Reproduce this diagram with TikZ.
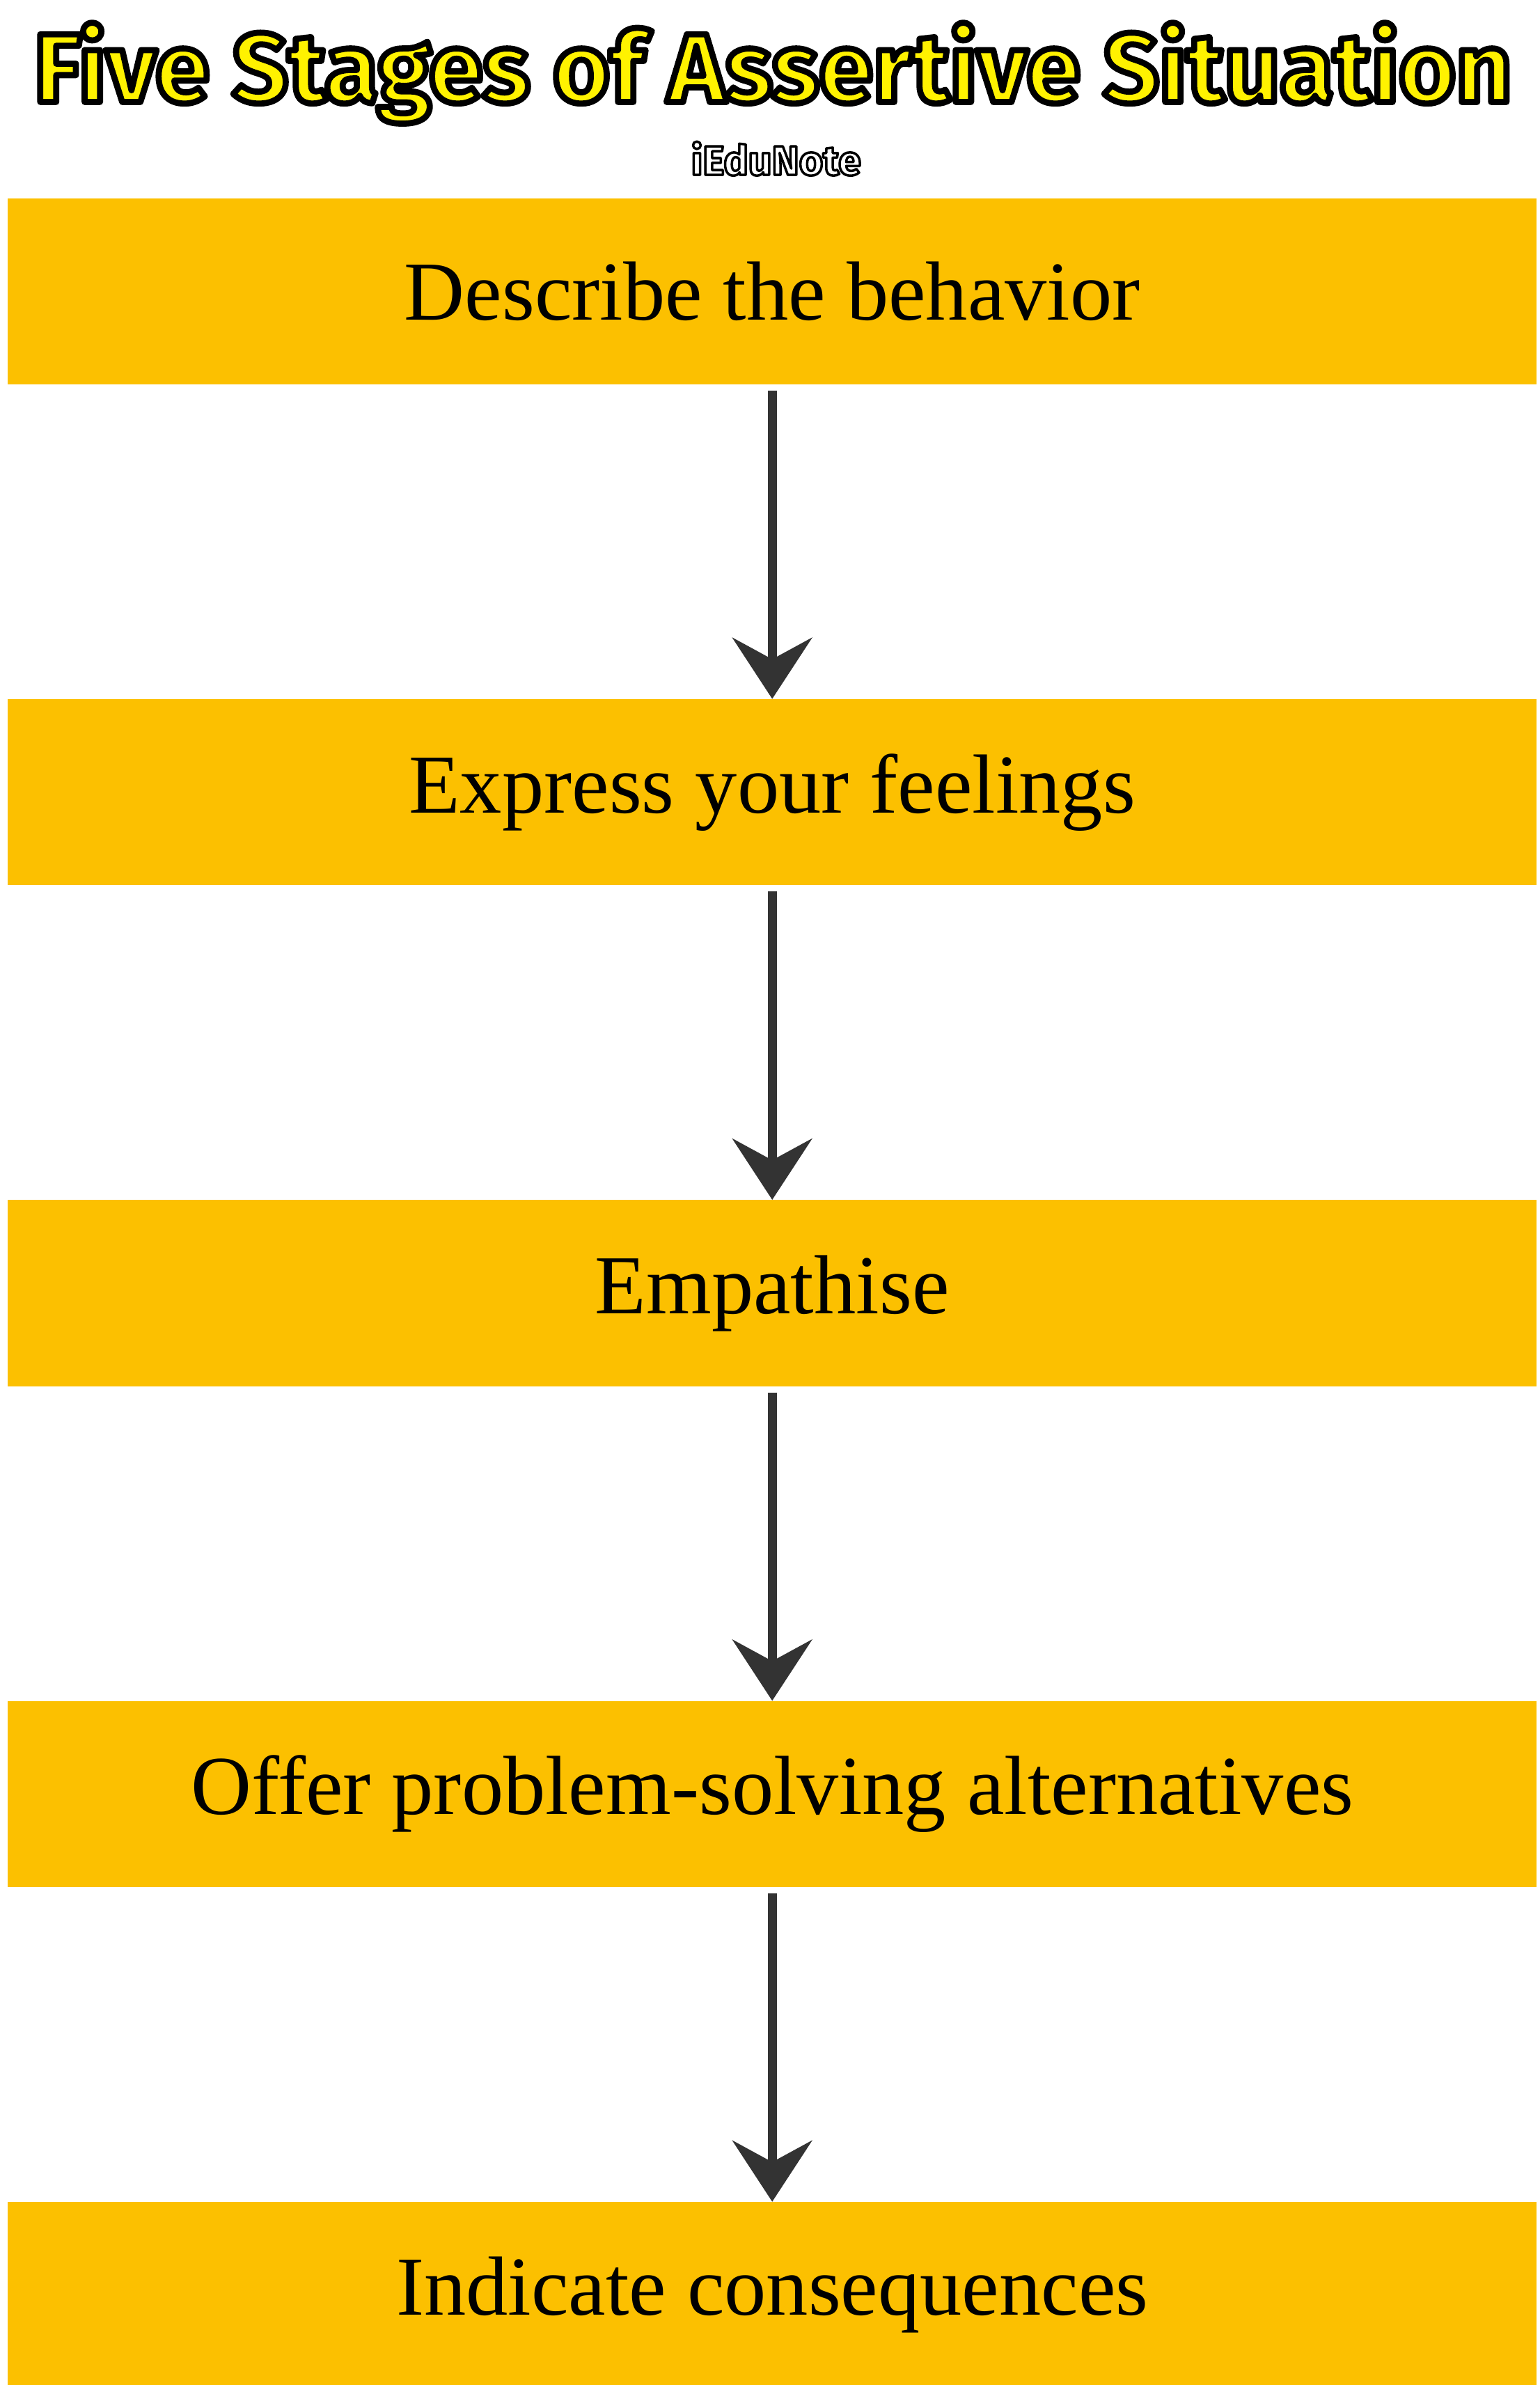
\documentclass[tikz,border=0pt]{standalone}
\usepackage{fontspec}
\setmainfont{Liberation Serif}
\newfontfamily\titlefont{Fira Sans}
\usetikzlibrary{arrows.meta}
\definecolor{boxy}{HTML}{FCC000}
\definecolor{ttly}{HTML}{FFF200}
\definecolor{arr}{HTML}{333333}
\newcommand\outlinedtext[3]{{\color{#1}\special{pdf:literal direct 0 0 0 RG 2 Tr #2 w 1 j}#3\special{pdf:literal direct 0 Tr}}}
\tikzset{stagebox/.style={fill=boxy,minimum width=1003pt,minimum height=122pt,inner sep=0pt,font=\fontsize{55}{60}\selectfont,text=black},
conn/.style={draw=arr,line width=6pt,-{Stealth[length=40pt,width=52pt,inset=14pt]}}}
\begin{document}
\begin{tikzpicture}[x=1pt,y=-1pt]
\useasboundingbox (0,0) rectangle (1010,1564);
\fill[white] (0,0) rectangle (1010,1564);
\node (title) at (507,48) {\titlefont\bfseries\fontsize{64}{68}\selectfont\outlinedtext{ttly}{4}{Five Stages of Assertive Situation}};
\node (brand) at (509,104) {\titlefont\bfseries\fontsize{27}{30}\selectfont\outlinedtext{white}{1.6}{iEduNote}};
\node[stagebox] (s1) at (506.5,191) {Describe the behavior};
\node[stagebox] (s2) at (506.5,519.5) {Express your feelings};
\node[stagebox] (s3) at (506.5,848) {Empathise};
\node[stagebox] (s4) at (506.5,1176.5) {Offer problem-solving alternatives};
\node[stagebox] (s5) at (506.5,1505) {Indicate consequences};
\foreach \a/\b in {s1/s2,s2/s3,s3/s4,s4/s5}
  \draw[conn] ([yshift=-4pt]\a.south) -- (\b.north);
\end{tikzpicture}
\end{document}
